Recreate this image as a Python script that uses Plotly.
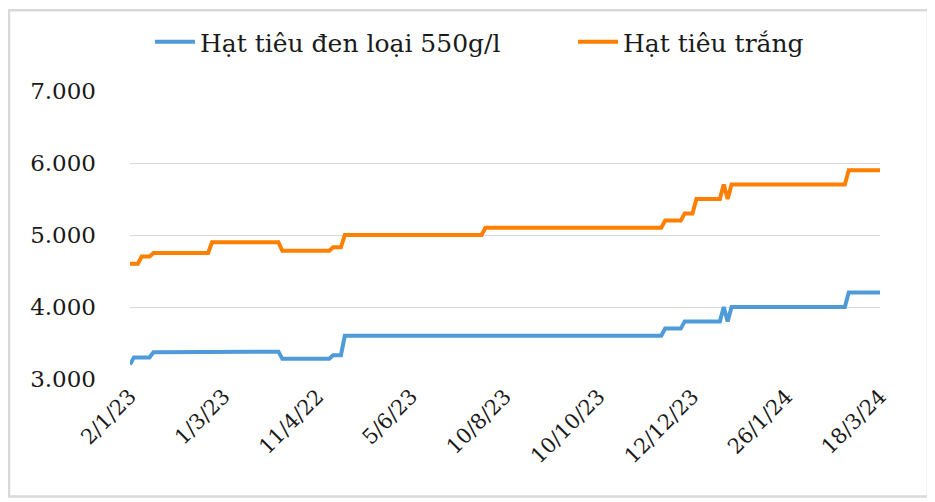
import plotly.graph_objects as go

# Tick labels shown on the x axis (one every 24 points)
tick_labels = ["2/1/23", "1/3/23", "11/4/22", "5/6/23", "10/8/23",
               "10/10/23", "12/12/23", "26/1/24", "18/3/24"]

# Black pepper 550 g/l
den_550 = [
    3200, 3300, 3300, 3300, 3300, 3300, 3370, 3370, 3370, 3370, 3370, 3370,
    3370, 3370, 3370, 3370, 3370, 3370, 3370, 3370, 3370, 3380, 3380, 3380,
    3380, 3380, 3380, 3380, 3380, 3380, 3380, 3380, 3380, 3380, 3380, 3380,
    3380, 3380, 3380, 3280, 3280, 3280, 3280, 3280, 3280, 3280, 3280, 3280,
    3280, 3280, 3280, 3280, 3330, 3330, 3330, 3600, 3600, 3600, 3600, 3600,
    3600, 3600, 3600, 3600, 3600, 3600, 3600, 3600, 3600, 3600, 3600, 3600,
    3600, 3600, 3600, 3600, 3600, 3600, 3600, 3600, 3600, 3600, 3600, 3600,
    3600, 3600, 3600, 3600, 3600, 3600, 3600, 3600, 3600, 3600, 3600, 3600,
    3600, 3600, 3600, 3600, 3600, 3600, 3600, 3600, 3600, 3600, 3600, 3600,
    3600, 3600, 3600, 3600, 3600, 3600, 3600, 3600, 3600, 3600, 3600, 3600,
    3600, 3600, 3600, 3600, 3600, 3600, 3600, 3600, 3600, 3600, 3600, 3600,
    3600, 3600, 3600, 3600, 3600, 3700, 3700, 3700, 3700, 3700, 3800, 3800,
    3800, 3800, 3800, 3800, 3800, 3800, 3800, 3800, 4000, 3800, 4000, 4000,
    4000, 4000, 4000, 4000, 4000, 4000, 4000, 4000, 4000, 4000, 4000, 4000,
    4000, 4000, 4000, 4000, 4000, 4000, 4000, 4000, 4000, 4000, 4000, 4000,
    4000, 4000, 4000, 4000, 4200, 4200, 4200, 4200, 4200, 4200, 4200, 4200,
    4200,
]

# White pepper
trang = [
    4600, 4600, 4600, 4700, 4700, 4700, 4750, 4750, 4750, 4750, 4750, 4750,
    4750, 4750, 4750, 4750, 4750, 4750, 4750, 4750, 4750, 4900, 4900, 4900,
    4900, 4900, 4900, 4900, 4900, 4900, 4900, 4900, 4900, 4900, 4900, 4900,
    4900, 4900, 4900, 4780, 4780, 4780, 4780, 4780, 4780, 4780, 4780, 4780,
    4780, 4780, 4780, 4780, 4830, 4830, 4830, 5000, 5000, 5000, 5000, 5000,
    5000, 5000, 5000, 5000, 5000, 5000, 5000, 5000, 5000, 5000, 5000, 5000,
    5000, 5000, 5000, 5000, 5000, 5000, 5000, 5000, 5000, 5000, 5000, 5000,
    5000, 5000, 5000, 5000, 5000, 5000, 5000, 5100, 5100, 5100, 5100, 5100,
    5100, 5100, 5100, 5100, 5100, 5100, 5100, 5100, 5100, 5100, 5100, 5100,
    5100, 5100, 5100, 5100, 5100, 5100, 5100, 5100, 5100, 5100, 5100, 5100,
    5100, 5100, 5100, 5100, 5100, 5100, 5100, 5100, 5100, 5100, 5100, 5100,
    5100, 5100, 5100, 5100, 5100, 5200, 5200, 5200, 5200, 5200, 5300, 5300,
    5300, 5500, 5500, 5500, 5500, 5500, 5500, 5500, 5700, 5500, 5700, 5700,
    5700, 5700, 5700, 5700, 5700, 5700, 5700, 5700, 5700, 5700, 5700, 5700,
    5700, 5700, 5700, 5700, 5700, 5700, 5700, 5700, 5700, 5700, 5700, 5700,
    5700, 5700, 5700, 5700, 5900, 5900, 5900, 5900, 5900, 5900, 5900, 5900,
    5900,
]

x = list(range(len(den_550)))
tick_pos = x[::24]

fig = go.Figure()
fig.add_trace(go.Scatter(x=x, y=den_550, mode="lines", name="Hạt tiêu đen loại 550g/l",
                         line=dict(color="#4F9BDA", width=4), legend="legend"))
fig.add_trace(go.Scatter(x=x, y=trang, mode="lines", name="Hạt tiêu trắng",
                         line=dict(color="#FF7F00", width=4), legend="legend2"))

legend_style = dict(orientation="h", xanchor="left", y=1.166, yanchor="middle",
                    font=dict(size=25), itemwidth=40,
                    bgcolor="rgba(0,0,0,0)")

# the page body adds an 8px offset, so the figure is 8px smaller
fig.update_layout(
    width=927, height=494,
    margin=dict(l=122, r=55, t=82, b=123),
    plot_bgcolor="white", paper_bgcolor="white",
    font=dict(family="DejaVu Serif", size=23, color="#1a1a1a"),
    showlegend=True,
    legend=dict(x=(150 - 130) / 750, **legend_style),
    legend2=dict(x=(573 - 130) / 750, **legend_style),
    separators=",.",
)
fig.update_xaxes(range=[0, len(x) - 1], tickvals=tick_pos, ticktext=tick_labels,
                 tickangle=-45, showgrid=False, zeroline=False, showline=False,
                 ticks="", tickfont=dict(size=21))
fig.update_yaxes(range=[3000, 7000], dtick=1000, tickformat=",d",
                 showgrid=True, gridcolor="#d9d9d9", gridwidth=1,
                 zeroline=False, showline=False, ticklabelstandoff=33)

# outer frame of the chart
fig.add_shape(type="rect", xref="paper", yref="paper",
              x0=(1 - 122) / 750, x1=(920 - 122) / 750,
              y0=(371 - 489) / 289, y1=(371 - 1) / 289,
              line=dict(color="#d9d9d9", width=2.5), layer="below")

fig.write_html("out.html")
